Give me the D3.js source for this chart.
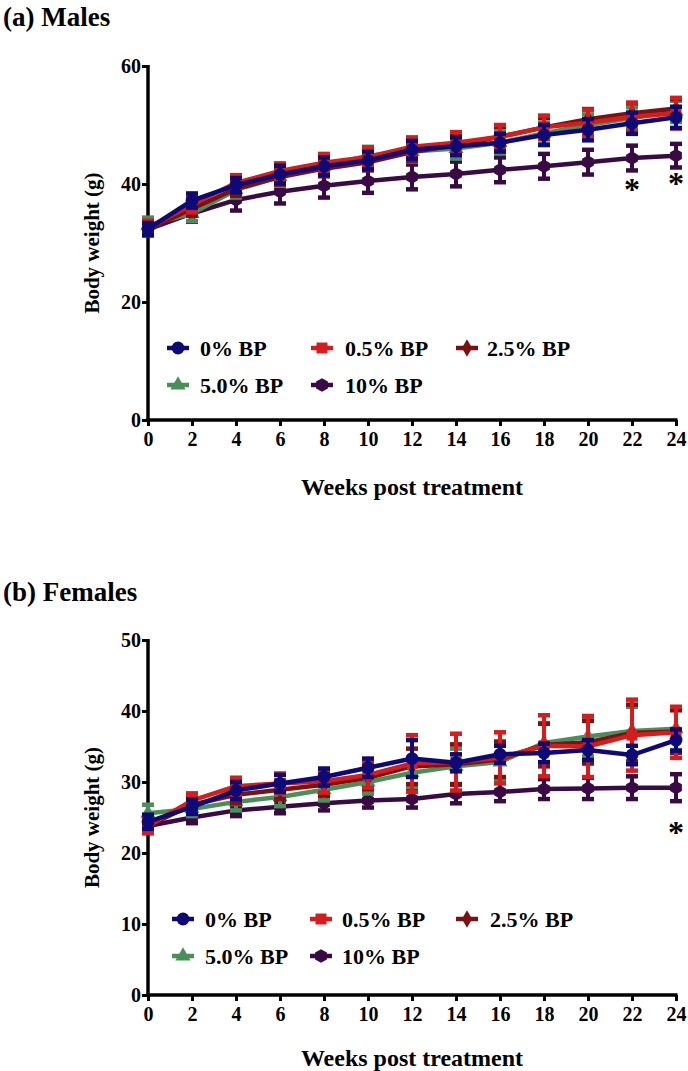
<!DOCTYPE html>
<html><head><meta charset="utf-8">
<script src="https://cdn.jsdelivr.net/npm/d3@7"></script>
<style>body{margin:0;background:#fff}svg{display:block}text{font-family:"Liberation Serif","DejaVu Serif",serif;font-weight:bold;fill:#000}</style>
</head><body>
<script>
const weeks = [0,2,4,6,8,10,12,14,16,18,20,22,24];
const seriesNames = ["0% BP","0.5% BP","2.5% BP","5.0% BP","10% BP"];
// Males (a)
const male0  = [32.4,37.2,39.8,41.6,43.0,44.0,45.8,46.4,47.0,48.3,49.2,50.3,51.3];
const male05 = [32.6,36.5,40.2,42.2,43.6,44.6,46.3,47.0,48.0,49.6,50.4,51.4,52.0];
const male25 = [32.3,35.8,39.2,41.2,42.6,43.7,45.4,46.6,48.0,49.6,51.0,52.0,52.8];
const male50 = [33.0,35.0,39.0,41.2,43.0,44.8,45.5,46.0,47.0,48.6,50.0,51.2,52.3];
const male10 = [32.3,35.0,37.3,38.7,39.7,40.5,41.2,41.7,42.4,43.0,43.7,44.4,44.8];
const maleErr0  = [1.0,1.2,1.2,1.5,1.5,1.5,1.5,1.5,1.5,1.7,1.8,1.8,1.8];
const maleErr05 = [1.2,1.3,1.3,1.3,1.5,1.6,1.6,1.8,2.0,2.0,2.2,2.4,2.6];
const maleErr25 = [1.0,1.2,1.2,1.3,1.3,1.4,1.5,1.5,1.6,1.6,1.7,1.7,1.6];
const maleErr50 = [1.3,1.3,1.3,1.5,1.5,1.5,1.7,1.7,1.8,1.8,1.8,1.8,1.8];
const maleErr10 = [1.0,1.4,1.8,2.0,2.0,2.0,2.1,2.1,2.1,2.1,2.1,2.1,2.0];
// Females (b)
const female0  = [24.4,26.5,28.8,29.8,30.7,32.0,33.3,32.7,33.9,34.1,34.5,33.8,35.9];
const female05 = [23.8,27.4,29.4,29.8,30.1,31.0,32.6,32.8,33.4,35.1,35.0,36.6,37.0];
const female25 = [23.8,26.8,28.2,28.9,29.6,30.6,32.2,32.5,33.2,35.2,35.6,36.9,37.1];
const female50 = [25.6,26.2,27.2,27.9,28.9,30.0,31.3,32.2,32.8,35.5,36.4,37.2,37.5];
const female10 = [23.8,25.0,26.0,26.5,27.0,27.4,27.6,28.3,28.6,29.0,29.1,29.2,29.2];
const femaleErr0  = [1.0,1.0,1.2,1.2,1.2,1.3,2.6,1.2,1.2,1.3,1.4,1.3,1.5];
const femaleErr05 = [1.0,1.0,1.2,1.4,1.6,1.8,4.0,4.0,3.6,4.3,4.3,5.0,3.6];
const femaleErr25 = [1.0,1.0,1.2,1.3,1.5,1.6,2.5,2.8,2.5,3.0,3.0,4.0,3.0];
const femaleErr50 = [1.2,1.0,1.2,1.3,1.5,1.6,2.0,2.5,2.5,2.8,2.8,3.4,3.0];
const femaleErr10 = [0.8,0.8,0.8,0.9,1.0,1.0,1.2,1.3,1.3,1.4,1.5,1.6,1.9];
const maleTicksY = [0,20,40,60];
const femaleTicksY = [0,10,20,30,40,50];
const xTicks = weeks;
const maleSig = [22,24];
const femaleSig = [24];

const colors = ["#0d0a78","#d61c1c","#7a1212","#4a8f5a","#3a0a45"];
const hexagon = {draw(ctx,size){const r=Math.sqrt(size/2.598);for(let i=0;i<6;i++){const a=Math.PI/6+i*Math.PI/3;const x=r*Math.cos(a),y=r*Math.sin(a);i?ctx.lineTo(x,y):ctx.moveTo(x,y);}ctx.closePath();}};
const symbols = [d3.symbolCircle,d3.symbolSquare,d3.symbolDiamond,d3.symbolTriangle,hexagon];
const sizes = [130,120,90,100,120];
const FONT = '"Liberation Serif","DejaVu Serif",serif';

const W=688,H=1071;
const svg=d3.select("body").append("svg").attr("width",W).attr("height",H);

function panel(o){
  const g=svg.append("g");
  const x=d3.scaleLinear().domain([0,24]).range([148,676]);
  const y=d3.scaleLinear().domain(o.ydom).range([o.y0,o.y1]);
  g.append("text").attr("x",3).attr("y",o.titleY).attr("font-size",27).text(o.title);
  const ax=g.append("g").attr("transform",`translate(0,${o.y0})`).call(d3.axisBottom(x).tickValues(xTicks).tickSize(6).tickPadding(6).tickFormat(d3.format("d")));
  const ay=g.append("g").attr("transform",`translate(148,0)`).call(d3.axisLeft(y).tickValues(o.yticks).tickSize(6).tickPadding(1).tickFormat(d3.format("d")));
  [ax,ay].forEach(a=>{a.select(".domain").attr("stroke","#000").attr("stroke-width",3.5);a.selectAll(".tick line").attr("stroke","#000").attr("stroke-width",3);a.selectAll("text").attr("font-size",20).attr("font-family",FONT).attr("font-weight","bold").attr("fill","#000");});
  ax.select(".domain").attr("d",`M146.5,0H677.5`);
  ay.select(".domain").attr("d",`M0,${o.y1-1}V${o.y0+1.5}`);
  ax.selectAll(".tick text").attr("dy","0.71em");
  g.append("text").attr("x",412).attr("y",o.xtitleY).attr("text-anchor","middle").attr("font-size",24).text("Weeks post treatment");
  g.append("text").attr("transform",`translate(99,${(o.y0+o.y1)/2}) rotate(-90)`).attr("text-anchor","middle").attr("font-size",21).text("Body weight (g)");
  const line=d3.line().x((d,i)=>x(weeks[i])).y(d=>y(d));
  for(let s=4;s>=0;s--){
    const vals=o.data[s],errs=o.errs[s],c=colors[s];
    const eg=g.append("g");
    vals.forEach((v,i)=>{
      const xx=x(weeks[i]);
      eg.append("line").attr("x1",xx).attr("x2",xx).attr("y1",y(v-errs[i])).attr("y2",y(v+errs[i])).attr("stroke",c).attr("stroke-width",4);
      [v-errs[i],v+errs[i]].forEach(e=>eg.append("line").attr("x1",xx-6).attr("x2",xx+6).attr("y1",y(e)).attr("y2",y(e)).attr("stroke",c).attr("stroke-width",4.5));
    });
    g.append("path").attr("d",line(vals)).attr("fill","none").attr("stroke",c).attr("stroke-width",4.5);
    g.selectAll(null).data(vals).enter().append("path").attr("transform",(d,i)=>`translate(${x(weeks[i])},${y(d)})`).attr("d",d3.symbol(symbols[s],sizes[s])).attr("fill",c);
  }
  o.sig.forEach((w,k)=>{
    const i=weeks.indexOf(w);
    const v=o.data[4][i]-o.errs[4][i];
    g.append("text").attr("x",x(w)).attr("y",y(v)+o.sigOff[k]).attr("text-anchor","middle").attr("font-size",32).text("*");
  });
  o.legend.forEach((L,s)=>{
    const lg=g.append("g").attr("transform",`translate(${L[0]},${L[1]})`);
    lg.append("line").attr("x1",-11).attr("x2",11).attr("stroke",colors[s]).attr("stroke-width",4.5);
    lg.append("path").attr("d",d3.symbol(symbols[s],sizes[s])).attr("fill",colors[s]);
    lg.append("text").attr("x",L[2]).attr("y",7.5).attr("font-size",22).text(seriesNames[s]);
  });
}

panel({title:"(a) Males",titleY:26,ydom:[0,60],y0:420,y1:66,yticks:maleTicksY,xtitleY:495,
  data:[male0,male05,male25,male50,male10],errs:[maleErr0,maleErr05,maleErr25,maleErr50,maleErr10],
  sig:maleSig,sigOff:[30,27],
  legend:[[178,348,22],[322,348,23],[467,348,20],[178,385,22],[322,385,23]]});
panel({title:"(b) Females",titleY:601,ydom:[0,50],y0:995,y1:640,yticks:femaleTicksY,xtitleY:1066,
  data:[female0,female05,female25,female50,female10],errs:[femaleErr0,femaleErr05,femaleErr25,femaleErr50,femaleErr10],
  sig:femaleSig,sigOff:[42],
  legend:[[183,919,22],[321,919,21],[467,919,23],[183,956,22],[321,956,21]]});
</script>
</body></html>
